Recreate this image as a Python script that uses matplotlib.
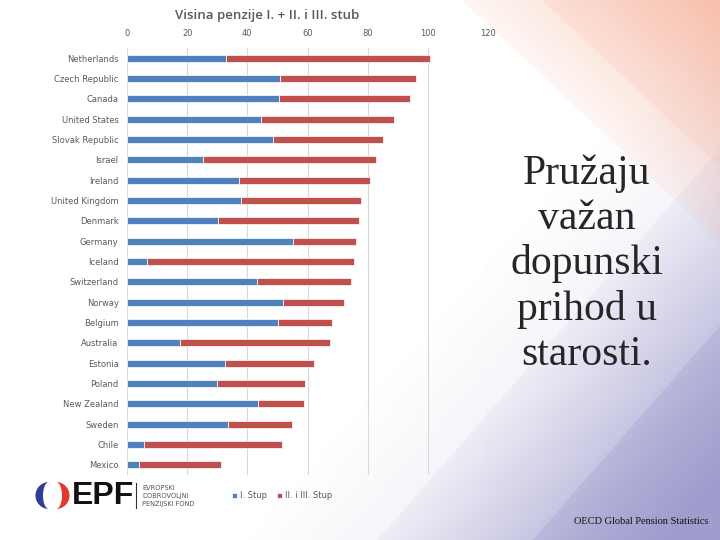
import numpy as np
import matplotlib.pyplot as plt
from matplotlib.patches import Polygon

countries = ["Netherlands", "Czech Republic", "Canada", "United States", "Slovak Republic",
             "Israel", "Ireland", "United Kingdom", "Denmark", "Germany", "Iceland",
             "Switzerland", "Norway", "Belgium", "Australia", "Estonia", "Poland",
             "New Zealand", "Sweden", "Chile", "Mexico"]
stup1 = [32.8, 50.7, 50.5, 44.7, 48.5, 25.1, 37.2, 37.9, 30.2, 55.2, 6.7,
         43.2, 51.8, 50.2, 17.5, 32.6, 29.9, 43.5, 33.6, 5.6, 4.0]
total = [100.8, 96.1, 94.1, 88.9, 85.2, 82.8, 80.8, 77.9, 77.2, 76.2, 75.6,
         74.6, 72.2, 68.2, 67.6, 62.3, 59.3, 58.7, 54.9, 51.6, 31.4]
stup23 = [t - s for t, s in zip(total, stup1)]
xticks = [0, 20, 40, 60, 80, 100, 120]

W, H = 720, 540
fig = plt.figure(figsize=(7.2, 5.4), dpi=100)

# background: lavender and peach diagonal bands
bg = fig.add_axes([0, 0, 1, 1], zorder=-1)
xx, yy = np.meshgrid(np.arange(W) + 0.5, np.arange(H) + 0.5)
u = (160 * (xx - 377) + 140 * (yy - 540)) / 212.6
lav = np.clip(u / 260, 0, 1) * 0.5 + (u > 0) * 0.06 + (u > 117) * 0.1
# faint wash over the right side
w = (160 * (xx - 430) + 140 * (yy - 330)) / 212.6
lav = lav + np.clip(w / 250, 0, 1) * 0.18
lav = np.clip(lav, 0, 0.75)
v = (113 * (xx - 480) - 120 * (yy - 17)) / 165
pea = np.clip(v / 170, 0, 1) * 0.45 + (v > 0) * 0.08 + (v > 55) * 0.08
pea = np.clip(pea, 0, 0.65)
img = np.ones((H, W, 3))
lav_c = np.array([0.50, 0.49, 0.74])
pea_c = np.array([0.95, 0.60, 0.48])
img = img * (1 - lav[..., None]) + lav_c * lav[..., None]
img = img * (1 - pea[..., None]) + pea_c * pea[..., None]
bg.imshow(img, extent=(0, W, H, 0), aspect="auto")
bg.set_xlim(0, W)
bg.set_ylim(H, 0)
bg.axis("off")

# logo
t = np.linspace(np.pi / 2, 3 * np.pi / 2, 60)
cy, r = 495.5, 13.5
outer = np.c_[49 + r * np.cos(t), cy - r * np.sin(t)]
inner = np.c_[49 + 6 * np.cos(t[::-1]), cy - r * np.sin(t[::-1])]
bg.add_patch(Polygon(np.r_[outer, inner], closed=True, color="#2b3f96", lw=0))
outer_r = np.c_[56 - r * np.cos(t), cy - r * np.sin(t)]
inner_r = np.c_[56 - 6 * np.cos(t[::-1]), cy - r * np.sin(t[::-1])]
bg.add_patch(Polygon(np.r_[outer_r, inner_r], closed=True, color="#e03a2f", lw=0))
bg.text(72, 496, "EPF", fontsize=23, fontweight="bold", color="#111111",
        ha="left", va="center", family="Liberation Sans")
bg.plot([136, 136], [483, 508], color="#333333", lw=0.8)
for i, s in enumerate(["EVROPSKI", "DOBROVOLJNI", "PENZIJSKI FOND"]):
    bg.text(142, 488 + i * 8.2, s, fontsize=4.8, color="#555555", ha="left", va="center")

bg.text(587, 264, "Pružaju\nvažan\ndopunski\nprihod u\nstarosti.", fontsize=30,
        family="Liberation Serif", color="#262626", ha="center", va="center", linespacing=1.22)
bg.text(708, 522, "OECD Global Pension Statistics", fontsize=7.5, family="Liberation Serif",
        color="#111111", ha="right", va="center")
bg.text(267, 16, "Visina penzije I. + II. i III. stub", fontsize=9.5, color="#595959",
        ha="center", va="center", fontweight="semibold", family="Open Sans")

# chart
ax = fig.add_axes([127 / W, 1 - 475 / H, 361 / W, 427 / H])
ax.patch.set_alpha(0)
y = np.arange(len(countries))
b1 = ax.barh(y, stup1, height=0.36, color="#4f81bd", edgecolor="white", lw=0.5,
             label="I. Stup", zorder=3)
b2 = ax.barh(y, stup23, left=stup1, height=0.36, color="#c0504d", edgecolor="white", lw=0.5,
             label="II. i III. Stup", zorder=3)
ax.set_xlim(0, 120)
ax.set_ylim(len(countries) - 0.5, -0.5)
ax.set_xticks(xticks)
ax.xaxis.tick_top()
ax.set_yticks(y)
ax.set_yticklabels(countries)
ax.tick_params(length=0, labelsize=6, labelcolor="#595959", pad=6)
ax.tick_params(axis="x", pad=7)
ax.grid(axis="x", color="#d9d9d9", lw=0.8, zorder=0)
for s in ax.spines.values():
    s.set_visible(False)

fig.legend(handles=[b1, b2], loc="center", bbox_to_anchor=(282 / W, 1 - 496 / H), ncol=2,
           frameon=False, fontsize=6, handlelength=0.6, handleheight=0.6,
           columnspacing=1.2, handletextpad=0.4, labelcolor="#595959")

fig.savefig("out.png", dpi=100)
